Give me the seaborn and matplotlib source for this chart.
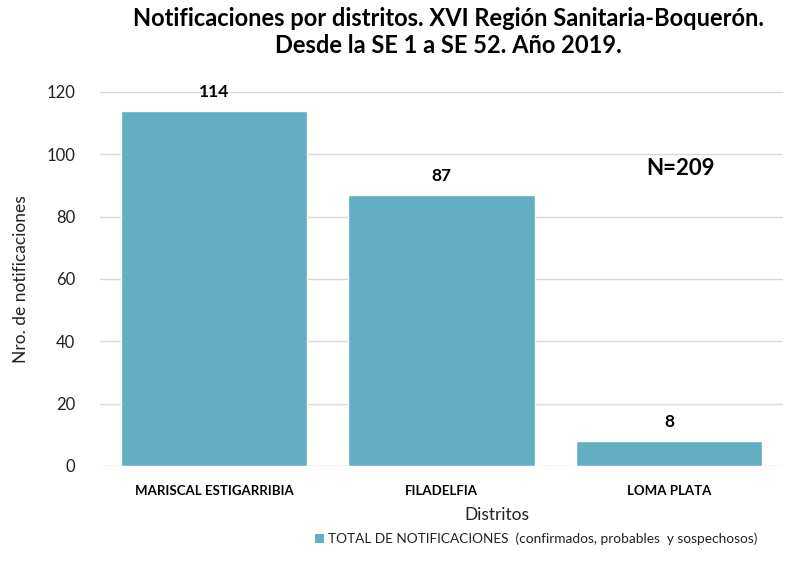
import matplotlib.pyplot as plt
import seaborn as sns
import pandas as pd
from matplotlib.patches import Patch

distritos = ['MARISCAL ESTIGARRIBIA', 'FILADELFIA', 'LOMA PLATA']
notificaciones = [114, 87, 8]
total_n = 209

sns.set_theme(style='white')
plt.rcParams['font.family'] = ['Lato', 'DejaVu Sans']

df = pd.DataFrame({'Distritos': distritos, 'Notificaciones': notificaciones})
color_barra = '#62AFC3'

fig = plt.figure(figsize=(7.85, 5.71), dpi=100)
ax = fig.add_axes([0.128, 0.184, 0.869, 0.655])
sns.barplot(data=df, x='Distritos', y='Notificaciones', color=color_barra,
            width=0.82, saturation=1, ax=ax, zorder=3)

ax.set_ylim(0, 120)
ax.set_yticks(range(0, 121, 20))
ax.yaxis.grid(True, color='#D9D9D9', linewidth=1, zorder=0)
for s in ax.spines.values():
    s.set_visible(False)
ax.tick_params(axis='y', labelsize=12, colors='#222222', length=0, pad=18)
ax.tick_params(axis='x', length=0, pad=14)
for lbl in ax.get_xticklabels():
    lbl.set_fontweight('bold')
    lbl.set_fontsize(9.5)
    lbl.set_color('black')

# etiquetas de valores
for i, v in enumerate(notificaciones):
    ax.text(i, v + 6, str(v), ha='center', va='center', fontsize=12.5, fontweight='bold',
            color='black')

ax.text(2.05, 95.5, f'N={total_n}', ha='center', va='center', fontsize=16, fontweight='bold',
        color='black')

ax.set_xlabel('Distritos', fontsize=12.5, color='#222222')
ax.xaxis.set_label_coords(0.581, -0.11)
ax.set_ylabel('Nro. de notificaciones', fontsize=12.5, color='#222222')
ax.yaxis.set_label_coords(-0.105, 0.5)

fig.suptitle('Notificaciones por distritos. XVI Región Sanitaria-Boquerón.\nDesde la SE 1 a SE 52. Año 2019.',
             x=0.571, y=0.987, fontsize=17, fontweight='bold', linespacing=1.2, color='black')

handles = [Patch(facecolor=color_barra, edgecolor='none')]
fig.legend(handles, ['TOTAL DE NOTIFICACIONES  (confirmados, probables  y sospechosos)'],
           loc='center', bbox_to_anchor=(0.683, 0.056), frameon=False, fontsize=9.8,
           handlelength=0.6, handleheight=0.6, handletextpad=0.3, labelcolor='#222222')

fig.savefig('out.png', dpi=100)
